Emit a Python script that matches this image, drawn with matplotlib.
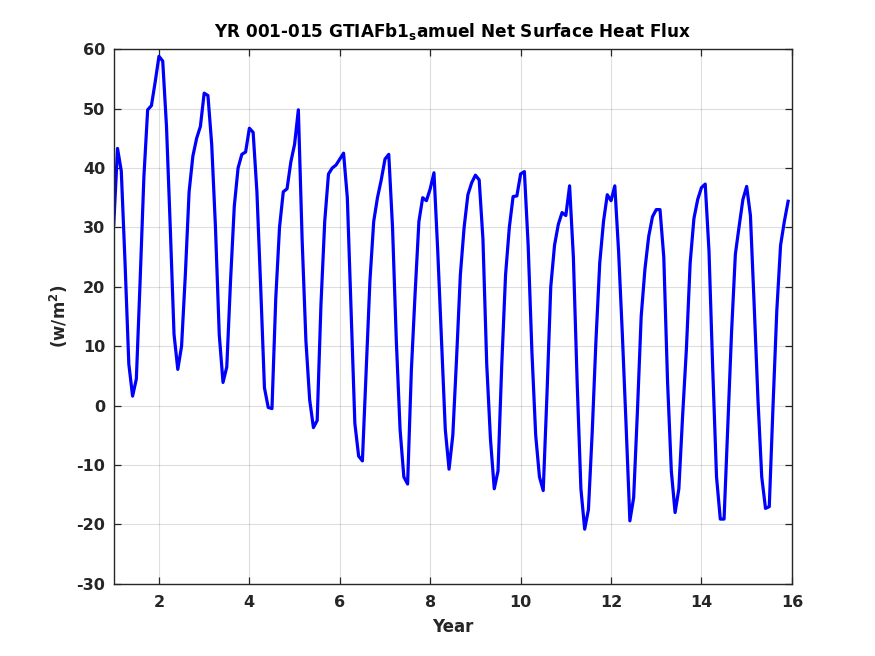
import numpy as np
import matplotlib
matplotlib.use("Agg")
import matplotlib.pyplot as plt

# Monthly net surface heat flux (W/m^2), years 1-15
flux = [
    30.5, 43.3, 39.5, 24, 7, 1.6, 4.5, 21, 38.5, 49.8, 50.5, 54.5,
    58.8, 58.0, 47, 30, 12, 6.1, 10, 22, 36, 42, 45, 47,
    52.6, 52.2, 44, 30, 12, 3.9, 6.5, 21, 33.6, 40, 42.3, 42.7,
    46.7, 46, 36, 20, 3, -0.3, -0.5, 18, 30, 36, 36.5, 41,
    44, 49.8, 28, 11, 1, -3.7, -2.5, 17, 31, 39, 40, 40.5,
    41.5, 42.5, 35, 16, -3, -8.5, -9.3, 6, 21, 31, 35, 38,
    41.5, 42.3, 30, 11, -4, -12, -13.2, 6, 19, 31, 35, 34.5,
    36.5, 39.2, 26, 11, -4, -10.7, -5, 8, 22, 30, 35.5, 37.5,
    38.8, 38, 28, 7, -5.7, -14, -11, 7, 22, 30, 35.2, 35.3,
    39, 39.4, 27, 9, -5, -12, -14.3, 2, 20, 27, 30.5, 32.5,
    32, 37, 25, 4, -14, -20.8, -17.5, -4.5, 11, 24, 31, 35.5,
    34.5, 37, 26, 12, -3.4, -19.4, -15.5, -1, 15, 23, 28.5, 31.8,
    33, 33, 25, 4, -11, -18, -14, -1.7, 9.5, 24, 31.5, 34.7,
    36.7, 37.3, 26, 6, -12, -19.1, -19.1, -3.5, 12.5, 25.5, 30.2, 34.7,
    36.9, 32, 16.8, 1, -12, -17.3, -17, 0, 16, 27, 31, 34.4,
]
first_year = 1
months_per_year = 12
years = first_year + np.arange(len(flux)) / months_per_year

xticks = [2, 4, 6, 8, 10, 12, 14, 16]
yticks = [-30, -20, -10, 0, 10, 20, 30, 40, 50, 60]

plt.rcParams['font.family'] = ['DejaVu Sans']
plt.rcParams['axes.unicode_minus'] = False
fig = plt.figure(figsize=(8.75, 6.56), dpi=100)
ax = fig.add_axes([0.13, 0.11, 0.775, 0.815])

ax.plot(years, flux, color=(0, 0, 1), lw=2.3)

ax.set_xlim(1, 16)
ax.set_ylim(-30, 60)
ax.set_xticks(xticks)
ax.set_yticks(yticks)
ax.grid(True, color=(0.15, 0.15, 0.15), alpha=0.15, lw=0.8)
ax.set_axisbelow(True)

dark = (0.15, 0.15, 0.15)
for s in ax.spines.values():
    s.set_color(dark)
    s.set_linewidth(1.0)
ax.tick_params(direction='in', length=5, width=0.9, colors=dark,
               top=True, right=True, labelsize=11.5)
ax.tick_params(axis='x', pad=8)
ax.tick_params(axis='y', pad=6)
for lab in ax.get_xticklabels() + ax.get_yticklabels():
    lab.set_fontweight('bold')

ax.set_xlabel('Year', fontsize=12, fontweight='bold', color=dark, labelpad=6)
ax.set_ylabel('(w/m$^\\mathbf{2}$)', fontsize=12, fontweight='bold', color=dark, labelpad=5)
ax.set_title('YR 001-015 GTIAFb1$_\\mathbf{s}$amuel Net Surface Heat Flux',
             fontsize=12.2, fontweight='bold', color='black', pad=9)

fig.savefig('out.png', dpi=100)
